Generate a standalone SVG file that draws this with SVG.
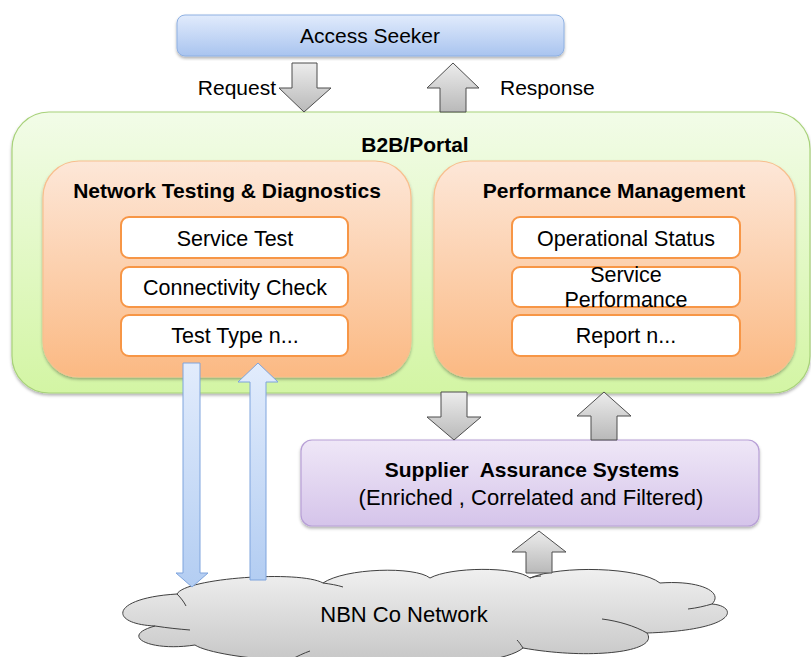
<svg xmlns="http://www.w3.org/2000/svg" width="811" height="657" viewBox="0 0 811 657">
<defs>
<linearGradient id="gBlue" x1="0" y1="0" x2="0" y2="1"><stop offset="0" stop-color="#e1ebfc"/><stop offset="1" stop-color="#a9c4ef"/></linearGradient>
<linearGradient id="gGreen" x1="0" y1="0" x2="0" y2="1"><stop offset="0" stop-color="#f2fce8"/><stop offset="1" stop-color="#d3f5a4"/></linearGradient>
<linearGradient id="gOrange" x1="0" y1="0" x2="0" y2="1"><stop offset="0" stop-color="#fde7d8"/><stop offset="1" stop-color="#fbb983"/></linearGradient>
<linearGradient id="gPurple" x1="0" y1="0" x2="0" y2="1"><stop offset="0" stop-color="#efe7f7"/><stop offset="1" stop-color="#d5c4ea"/></linearGradient>
<linearGradient id="gGray" x1="0" y1="0" x2="0" y2="1"><stop offset="0" stop-color="#ececec"/><stop offset="1" stop-color="#b9b9b9"/></linearGradient>
<linearGradient id="gCloud" x1="0" y1="0" x2="0" y2="1"><stop offset="0" stop-color="#f0f0f0"/><stop offset="1" stop-color="#c4c4c4"/></linearGradient>
<linearGradient id="gArrowBlue" x1="0" y1="0" x2="0" y2="1"><stop offset="0" stop-color="#e2ecfc"/><stop offset="1" stop-color="#b3cdf2"/></linearGradient>
<filter id="sh" x="-5%" y="-5%" width="110%" height="115%"><feDropShadow dx="0" dy="2" stdDeviation="1.5" flood-color="#000" flood-opacity="0.3"/></filter>
</defs>
<style>
text{font-family:"Liberation Sans",Arial,sans-serif;fill:#000;}
.t{font-size:21px;text-anchor:middle;}
.i{font-size:21.5px;text-anchor:middle;}
.b{font-size:21px;font-weight:bold;text-anchor:middle;}
.inner{fill:#fff;stroke:#f79646;stroke-width:2;}
.gray{fill:url(#gGray);stroke:#4d4d4d;stroke-width:1;}
.blue{fill:url(#gArrowBlue);stroke:#7ea4dd;stroke-width:1;}
</style>

<g id="access-seeker">
<rect x="177" y="15" width="387" height="41" rx="8" fill="url(#gBlue)" stroke="#8eb0e2" stroke-width="1" filter="url(#sh)"/>
<text class="t" x="370" y="43">Access Seeker</text>
</g>

<g id="b2b-portal">
<rect x="12" y="112" width="798" height="281" rx="37" fill="url(#gGreen)" stroke="#a8d27a" stroke-width="1.2" filter="url(#sh)"/>
<text class="b" x="415" y="152">B2B/Portal</text>
</g>

<g id="network-testing">
<rect x="43" y="161" width="368" height="216" rx="36" fill="url(#gOrange)" stroke="#f8bf8e" stroke-width="1.2" filter="url(#sh)"/>
<text class="b" x="227" y="198">Network Testing &amp; Diagnostics</text>
</g>
<g id="service-test">
<rect class="inner" x="121" y="217" width="227" height="41" rx="8"/>
<text class="i" x="235" y="246">Service Test</text>
</g>
<g id="connectivity-check">
<rect class="inner" x="121" y="267" width="227" height="40" rx="8"/>
<text class="i" x="235" y="295">Connectivity Check</text>
</g>
<g id="test-type">
<rect class="inner" x="121" y="315" width="227" height="41" rx="8"/>
<text class="i" x="235" y="343">Test Type n...</text>
</g>

<g id="performance-management">
<rect x="434" y="161" width="361" height="216" rx="36" fill="url(#gOrange)" stroke="#f8bf8e" stroke-width="1.2" filter="url(#sh)"/>
<text class="b" x="614" y="198">Performance Management</text>
</g>
<g id="operational-status">
<rect class="inner" x="512" y="217" width="228" height="41" rx="8"/>
<text class="i" x="626" y="246">Operational Status</text>
</g>
<g id="service-performance">
<rect class="inner" x="512" y="267" width="228" height="40" rx="8"/>
<text class="i" x="626" y="282">Service</text>
<text class="i" x="626" y="307">Performance</text>
</g>
<g id="report">
<rect class="inner" x="512" y="315" width="228" height="41" rx="8"/>
<text class="i" x="626" y="343">Report n...</text>
</g>

<g id="supplier-assurance">
<rect x="301" y="440" width="458" height="86" rx="11" fill="url(#gPurple)" stroke="#b79fd6" stroke-width="1.2" filter="url(#sh)"/>
<text class="b" x="532" y="477" xml:space="preserve" style="white-space:pre">Supplier  Assurance Systems</text>
<text class="t" x="531" y="505" style="font-size:22px">(Enriched , Correlated and Filtered)</text>
</g>

<g id="nbn-network">
<path d="M177,594 C185,578 300,570 323,583 C345,568 415,566 430,578 C450,567 515,566 530,578 C560,565 640,567 660,583 C700,580 724,592 712,604 C738,606 740,630 647,633 C660,652 590,660 523,648 C495,672 320,672 290,660 C250,660 205,652 195,645 C150,652 118,636 155,626 C108,624 110,598 177,594 Z" fill="url(#gCloud)" stroke="#404040" stroke-width="1"/>
<g fill="none" stroke="#404040" stroke-width="1">
<path d="M177,594 C181,598 184,602 186,606"/>
<path d="M155,626 C168,628 178,629 190,630"/>
<path d="M323,583 C330,584 337,585 343,587"/>
<path d="M530,578 C533,577 537,576 541,576"/>
<path d="M712,604 C705,606 697,608 688,609"/>
<path d="M647,633 C635,626 618,621 602,619"/>
<path d="M523,648 C521,645 519,642 517,640"/>
<path d="M290,660 C298,656 304,653 310,651"/>
</g>
<text class="t" x="404" y="622" style="font-size:22px">NBN Co Network</text>
</g>

<g id="connectors">
<polygon class="gray" points="292,63 317,63 317,88 331,88 304,112 279,88 292,88"/>
<text x="276" y="95" style="font-size:21px;text-anchor:end">Request</text>
<polygon class="gray" points="453,63 479,88 466,88 466,112 440,112 440,88 427,88"/>
<text x="500" y="95" style="font-size:21px">Response</text>
<polygon class="gray" points="441,392 467,392 467,417 481,417 454,440 427,417 441,417"/>
<polygon class="gray" points="604,392 631,416 617,416 617,440 591,440 591,416 577,416"/>
<polygon class="gray" points="539,531 566,552 552,552 552,573 526,573 526,552 512,552"/>
<polygon class="blue" points="183,363 200,363 200,573 208,573 192,587 176,573 183,573"/>
<polygon class="blue" points="258,363 278,382 266,382 266,580 250,580 250,382 238,382"/>
</g>
</svg>
